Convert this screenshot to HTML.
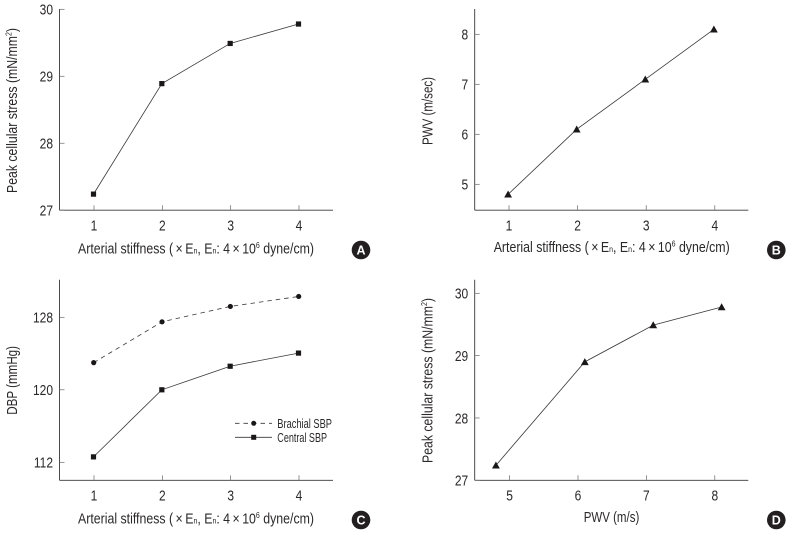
<!DOCTYPE html>
<html lang="en">
<head>
<meta charset="utf-8">
<title>Arterial stiffness charts</title>
<style>
html,body{margin:0;padding:0;background:#fff;}
svg{display:block;}
text{font-family:"Liberation Sans",sans-serif;fill:#2b2829;}
.axis-title{font-size:15px;}
.tick-label{font-size:15px;}
.legend-label{font-size:12.5px;}
.badge-letter{font-size:12.5px;font-weight:bold;fill:#fff;text-anchor:middle;}
</style>
</head>
<body>
<svg id="figure" xmlns="http://www.w3.org/2000/svg" width="789" height="533" viewBox="0 0 789 533">
  <g>
    <text class="axis-title" x="78" y="253.5" textLength="236" lengthAdjust="spacingAndGlyphs">Arterial stiffness (&#8201;×&#8201;E<tspan font-size="8.5">n</tspan>, E<tspan font-size="8.5">n</tspan>: 4&#8201;×&#8201;10<tspan font-size="8.5" dy="-5.5">6</tspan><tspan dy="5.5"> dyne/cm)</tspan></text>
    <text class="axis-title" transform="translate(17,193) rotate(-90)" textLength="165" lengthAdjust="spacingAndGlyphs">Peak cellular stress (mN/mm<tspan font-size="8.5" dy="-5.5">2</tspan><tspan dy="5.5">)</tspan></text>
  </g>
  <g>
    <text class="axis-title" x="493.7" y="252" textLength="236" lengthAdjust="spacingAndGlyphs">Arterial stiffness (&#8201;×&#8201;E<tspan font-size="8.5">n</tspan>, E<tspan font-size="8.5">n</tspan>: 4&#8201;×&#8201;10<tspan font-size="8.5" dy="-5.5">6</tspan><tspan dy="5.5"> dyne/cm)</tspan></text>
    <text class="axis-title" transform="translate(432.5,145) rotate(-90)" textLength="68" lengthAdjust="spacingAndGlyphs">PWV (m/sec)</text>
  </g>
  <g>
    <text class="axis-title" x="78" y="523.5" textLength="236" lengthAdjust="spacingAndGlyphs">Arterial stiffness (&#8201;×&#8201;E<tspan font-size="8.5">n</tspan>, E<tspan font-size="8.5">n</tspan>: 4&#8201;×&#8201;10<tspan font-size="8.5" dy="-5.5">6</tspan><tspan dy="5.5"> dyne/cm)</tspan></text>
    <text class="axis-title" transform="translate(17,414.7) rotate(-90)" textLength="68.7" lengthAdjust="spacingAndGlyphs">DBP (mmHg)</text>
  </g>
  <g>
    <text class="axis-title" x="583.7" y="522" textLength="55.6" lengthAdjust="spacingAndGlyphs">PWV (m/s)</text>
    <text class="axis-title" transform="translate(432.5,463) rotate(-90)" textLength="165" lengthAdjust="spacingAndGlyphs">Peak cellular stress (mN/mm<tspan font-size="8.5" dy="-5.5">2</tspan><tspan dy="5.5">)</tspan></text>
  </g>
  <g><circle cx="361" cy="250" r="9.3" fill="#231f20"/><text class="badge-letter" x="361" y="254.5">A</text></g>
  <g><circle cx="776.3" cy="250" r="9.3" fill="#231f20"/><text class="badge-letter" x="776.3" y="254.5">B</text></g>
  <g><circle cx="361" cy="520" r="9.3" fill="#231f20"/><text class="badge-letter" x="361" y="524.5">C</text></g>
  <g><circle cx="776.3" cy="520" r="9.3" fill="#231f20"/><text class="badge-letter" x="776.3" y="524.5">D</text></g>
  <g>
    <line x1="235" x2="272" y1="423.3" y2="423.3" stroke="#3a3738" stroke-width="0.8" stroke-dasharray="4.5 4"/>
    <circle cx="253.7" cy="423.3" r="2.5" fill="#1a1718"/>
    <text class="legend-label" x="277.3" y="428" textLength="54.7" lengthAdjust="spacingAndGlyphs">Brachial SBP</text>
    <line x1="235" x2="272" y1="437.3" y2="437.3" stroke="#3a3738" stroke-width="0.8"/>
    <rect x="251.2" y="434.8" width="5" height="5" fill="#1a1718"/>
    <text class="legend-label" x="277.3" y="442" textLength="49.7" lengthAdjust="spacingAndGlyphs">Central SBP</text>
  </g>
</svg>
<script>
var stiffnessCategories = [1, 2, 3, 4];
var pwvTicks = [5, 6, 7, 8];
var stressTicks = [27, 28, 29, 30];
var pwvAxisTicks = [5, 6, 7, 8];
var dbpTicks = [112, 120, 128];

var stressByStiffness = [27.24, 28.89, 29.49, 29.78];
var pwvByStiffness = [4.8, 6.1, 7.1, 8.1];
var brachialSbp = [123.0, 127.5, 129.2, 130.3];
var centralSbp = [112.6, 120.0, 122.6, 124.05];
var pwvValues = [4.8, 6.1, 7.1, 8.1];
var stressByPwv = [27.24, 28.9, 29.49, 29.78];

var svg = document.getElementById('figure');
var NS = 'http://www.w3.org/2000/svg';

function make(parent, tag, props) {
  var node = document.createElementNS(NS, tag);
  for (var key in props) { node.setAttribute(key, props[key]); }
  parent.appendChild(node);
  return node;
}

function linear(d0, d1, r0, r1) {
  return function (v) { return r0 + (v - d0) * (r1 - r0) / (d1 - d0); };
}

function drawAxes(id, box, xTicks, yTicks, xs, ys) {
  var group = make(svg, 'g', {});
  
  
  var xAxis = make(group, 'line', {x1: box.left, x2: box.right, y1: box.bottom, y2: box.bottom, stroke: '#3a3738', 'stroke-width': 0.9});
  
  
  var yAxis = make(group, 'line', {x1: box.left, x2: box.left, y1: box.top, y2: box.bottom, stroke: '#3a3738', 'stroke-width': 0.9});
  
  
  xTicks.forEach(function (t) {
    var tick = make(group, 'line', {x1: xs(t), x2: xs(t), y1: box.bottom - 5, y2: box.bottom, stroke: '#6a6768', 'stroke-width': 0.7});
    
    
    var label = make(group, 'text', {transform: 'translate(' + xs(t) + ',' + (box.bottom + 20.3) + ') scale(0.8,1)', 'text-anchor': 'middle', 'class': 'tick-label'});
    
    
    label.textContent = t;
  });
  yTicks.forEach(function (t) {
    var tick = make(group, 'line', {x1: box.left, x2: box.left + 5, y1: ys(t), y2: ys(t), stroke: '#6a6768', 'stroke-width': 0.7});
    
    
    var label = make(group, 'text', {transform: 'translate(' + (box.left - 6.5) + ',' + (ys(t) + 5.3) + ') scale(0.8,1)', 'text-anchor': 'end', 'class': 'tick-label'});
    
    
    label.textContent = t;
  });
}

function drawSeries(id, seriesName, xValues, yValues, xs, ys, shape, dashed, shift) {
  var group = make(svg, 'g', {});
  
  
  var pts = xValues.map(function (x, i) { return [xs(x) + shift, ys(yValues[i])]; });
  var lineProps = {points: pts.map(function (p) { return p[0] + ',' + p[1]; }).join(' '), fill: 'none', stroke: '#3a3738', 'stroke-width': 0.8};
  if (dashed) { lineProps['stroke-dasharray'] = '4.5 4'; }
  var line = make(group, 'polyline', lineProps);
  
  
  pts.forEach(function (p) {
    var mark;
    if (shape === 'square') {
      mark = make(group, 'rect', {x: p[0] - 2.6, y: p[1] - 2.6, width: 5.2, height: 5.2, fill: '#1a1718'});
    } else if (shape === 'circle') {
      mark = make(group, 'circle', {cx: p[0], cy: p[1], r: 2.6, fill: '#1a1718'});
    } else {
      mark = make(group, 'polygon', {points: (p[0] - 3.9) + ',' + (p[1] + 3.2) + ' ' + (p[0] + 3.9) + ',' + (p[1] + 3.2) + ' ' + p[0] + ',' + (p[1] - 3.8), fill: '#1a1718'});
    }
    
    
  });
}

// Panel A
var boxA = {left: 59.5, right: 333, top: 9, bottom: 210.2};
var xA = linear(1, 4, 94, 299);
var yA = linear(27, 30, 210.2, 9.3);
drawAxes('a', boxA, stiffnessCategories, stressTicks, xA, yA);
drawSeries('a', 'stress', stiffnessCategories, stressByStiffness, xA, yA, 'square', false, -0.5);

// Panel B
var boxB = {left: 474.7, right: 748.3, top: 9, bottom: 210.2};
var xB = linear(1, 4, 509, 714.8);
var yB = linear(5, 8, 184.3, 34.3);
drawAxes('b', boxB, stiffnessCategories, pwvTicks, xB, yB);
drawSeries('b', 'pwv', stiffnessCategories, pwvByStiffness, xB, yB, 'triangle', false, -0.9);

// Panel C
var boxC = {left: 59.5, right: 333, top: 279.7, bottom: 480.3};
var xC = linear(1, 4, 94, 299);
var yC = linear(112, 128, 462.3, 317.3);
drawAxes('c', boxC, stiffnessCategories, dbpTicks, xC, yC);
drawSeries('c', 'brachial-sbp', stiffnessCategories, brachialSbp, xC, yC, 'circle', true, -0.3);
drawSeries('c', 'central-sbp', stiffnessCategories, centralSbp, xC, yC, 'square', false, -0.5);

// Panel D
var boxD = {left: 474.7, right: 748.3, top: 279.7, bottom: 480.3};
var xD = linear(5, 8, 509.6, 714.8);
var yD = linear(27, 30, 480.3, 293.3);
drawAxes('d', boxD, pwvAxisTicks, stressTicks, xD, yD);
drawSeries('d', 'stress', pwvValues, stressByPwv, xD, yD, 'triangle', false, 0);
</script>
</body>
</html>
